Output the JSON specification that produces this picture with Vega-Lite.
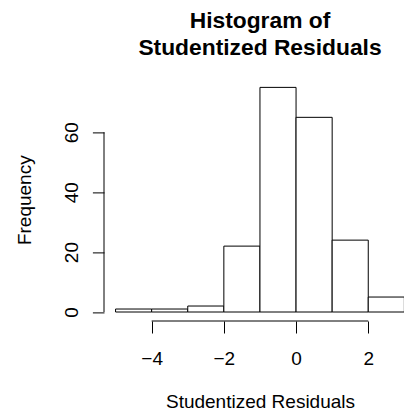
{
  "$schema": "https://vega.github.io/schema/vega-lite/v6.json",
  "width": 300,
  "height": 242.6,
  "autosize": {"type": "none"},
  "padding": {"left": 104, "top": 78.4, "right": 0, "bottom": 94},
  "background": "white",
  "config": {
    "view": {"stroke": null},
    "font": "Liberation Sans"
  },
  "title": {
    "text": ["Histogram of", "Studentized Residuals"],
    "font": "Liberation Sans",
    "fontSize": 22.8,
    "fontWeight": "bold",
    "lineHeight": 26.7,
    "color": "black",
    "anchor": "middle",
    "frame": "group",
    "dx": 6,
    "dy": 24,
    "baseline": "alphabetic",
    "offset": 25
  },
  "datasets": {
    "bins": [
      {"lo": -5, "hi": -4, "count": 1},
      {"lo": -4, "hi": -3, "count": 1},
      {"lo": -3, "hi": -2, "count": 2},
      {"lo": -2, "hi": -1, "count": 22},
      {"lo": -1, "hi": 0, "count": 75},
      {"lo": 0, "hi": 1, "count": 65},
      {"lo": 1, "hi": 2, "count": 24},
      {"lo": 2, "hi": 3, "count": 5}
    ],
    "xaxisline": [{"a": -4, "b": 2, "y": -3}],
    "yaxisline": [{"x": -5.32, "a": 0, "b": 60}]
  },
  "layer": [
    {
      "data": {"name": "bins"},
      "mark": {"type": "bar", "fill": "white", "stroke": "black", "strokeWidth": 1, "clip": true},
      "encoding": {
        "x": {
          "field": "lo",
          "type": "quantitative",
          "scale": {"domain": [-5.32, 2.99], "nice": false, "zero": false},
          "axis": {
            "values": [-4, -2, 0, 2],
            "domain": false,
            "grid": false,
            "ticks": true,
            "tickSize": 12,
            "tickColor": "black",
            "tickWidth": 1,
            "labelFont": "Liberation Sans",
            "labelFontSize": 19,
            "labelColor": "black",
            "labelBaseline": "alphabetic",
            "labelPadding": 31,
            "labelFlush": false,
            "labelExpr": "replace(datum.label, '-', '\u2212')",
            "title": "Studentized Residuals",
            "titleFont": "Liberation Sans",
            "titleFontSize": 19,
            "titleFontWeight": "normal",
            "titleColor": "black",
            "titleBaseline": "alphabetic",
            "titleX": 156,
            "titleY": 86.7
          }
        },
        "x2": {"field": "hi"},
        "y": {
          "field": "count",
          "type": "quantitative",
          "scale": {"domain": [-3, 78], "nice": false, "zero": false},
          "axis": {
            "values": [0, 20, 40, 60],
            "domain": false,
            "grid": false,
            "ticks": true,
            "tickSize": 11.6,
            "tickColor": "black",
            "tickWidth": 1,
            "labelFont": "Liberation Sans",
            "labelFontSize": 19,
            "labelColor": "black",
            "labelAngle": -90,
            "labelAlign": "center",
            "labelBaseline": "alphabetic",
            "labelPadding": 14.7,
            "labelFlush": false,
            "title": "Frequency",
            "titleFont": "Liberation Sans",
            "titleFontSize": 19,
            "titleFontWeight": "normal",
            "titleColor": "black",
            "titleAngle": -90,
            "titleAlign": "center",
            "titleBaseline": "alphabetic",
            "titleX": -74,
            "titleY": 121.3
          }
        },
        "y2": {"datum": 0}
      }
    },
    {
      "data": {"name": "xaxisline"},
      "mark": {"type": "rule", "color": "black", "strokeWidth": 1},
      "encoding": {
        "x": {"field": "a", "type": "quantitative"},
        "x2": {"field": "b"},
        "y": {"field": "y", "type": "quantitative"}
      }
    },
    {
      "data": {"name": "yaxisline"},
      "mark": {"type": "rule", "color": "black", "strokeWidth": 1},
      "encoding": {
        "x": {"field": "x", "type": "quantitative"},
        "y": {"field": "a", "type": "quantitative"},
        "y2": {"field": "b"}
      }
    }
  ]
}
